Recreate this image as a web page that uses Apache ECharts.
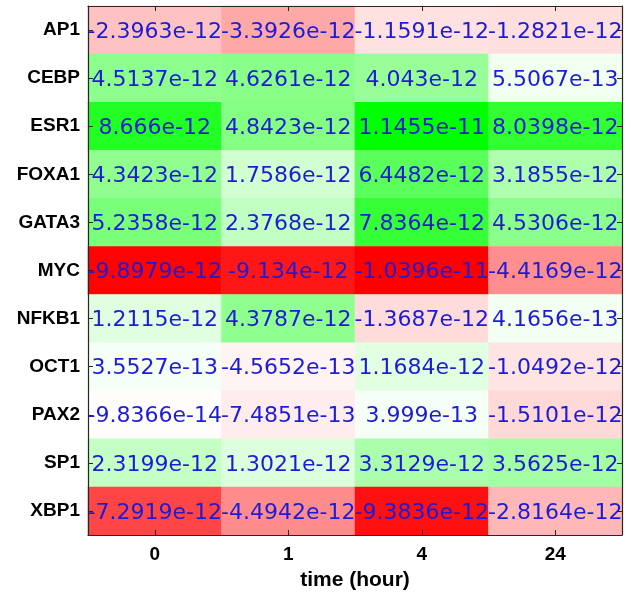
<!DOCTYPE html>
<html>
<head>
<meta charset="utf-8">
<script src="https://cdn.jsdelivr.net/npm/echarts@6/dist/echarts.min.js"></script>
<style>
html,body{margin:0;padding:0;background:#fff;}
#c{width:634px;height:599px;}
</style>
</head>
<body>
<div id="c"></div>
<script>
var genes = ['AP1','CEBP','ESR1','FOXA1','GATA3','MYC','NFKB1','OCT1','PAX2','SP1','XBP1'];
var times = ['0','1','4','24'];
var t0  = [-2.3963e-12, 4.5137e-12, 8.666e-12, 4.3423e-12, 5.2358e-12, -9.8979e-12, 1.2115e-12, 3.5527e-13, -9.8366e-14, 2.3199e-12, -7.2919e-12];
var t1  = [-3.3926e-12, 4.6261e-12, 4.8423e-12, 1.7586e-12, 2.3768e-12, -9.134e-12, 4.3787e-12, -4.5652e-13, -7.4851e-13, 1.3021e-12, -4.4942e-12];
var t4  = [-1.1591e-12, 4.043e-12, 1.1455e-11, 6.4482e-12, 7.8364e-12, -1.0396e-11, -1.3687e-12, 1.1684e-12, 3.999e-13, 3.3129e-12, -9.3836e-12];
var t24 = [-1.2821e-12, 5.5067e-13, 8.0398e-12, 3.1855e-12, 4.5306e-12, -4.4169e-12, 4.1656e-13, -1.0492e-12, -1.5101e-12, 3.5625e-12, -2.8164e-12];
var columns = [t0, t1, t4, t24];

var data = [];
columns.forEach(function (col, ci) {
  col.forEach(function (v, ri) { data.push([ci, ri, v]); });
});

function fmt(v) {
  var s = v.toPrecision(5);
  var parts = s.split('e');
  var m = parts[0];
  if (m.indexOf('.') >= 0) { m = m.replace(/0+$/, '').replace(/\.$/, ''); }
  var e = parts[1];
  if (e) {
    var neg = e[0] === '-';
    var num = e.replace(/^[+-]/, '');
    if (num.length < 2) num = '0' + num;
    return m + 'e' + (neg ? '-' : '+') + num;
  }
  return m;
}

var axisColor = '#262626';
var lblFont = 'Liberation Sans, Arial';
function tick() { return { show: true, inside: true, alignWithLabel: true, length: 5, lineStyle: { color: axisColor, width: 1 } }; }
function line() { return { show: true, onZero: false, lineStyle: { color: axisColor, width: 1.2 } }; }

var chart = echarts.init(document.getElementById('c'));
chart.setOption({
  animation: false,
  backgroundColor: '#ffffff',
  grid: { left: 88, top: 6, width: 534, height: 529, containLabel: false },
  xAxis: [{
    type: 'category', data: times, position: 'bottom', z: 10,
    axisLine: line(), axisTick: tick(),
    axisLabel: { color: '#000', fontFamily: lblFont, fontWeight: 'bold', fontSize: 19, margin: 10 },
    splitLine: { show: false },
    name: 'time (hour)', nameLocation: 'middle', nameGap: 35,
    nameTextStyle: { color: '#000', fontFamily: lblFont, fontWeight: 'bold', fontSize: 21 }
  }, {
    type: 'category', data: times, position: 'top', z: 10,
    axisLine: line(), axisTick: tick(),
    axisLabel: { show: false }, splitLine: { show: false }
  }],
  yAxis: [{
    type: 'category', data: genes, inverse: true, position: 'left', z: 10,
    axisLine: line(), axisTick: tick(),
    axisLabel: { color: '#000', fontFamily: lblFont, fontWeight: 'bold', fontSize: 19, margin: 8 },
    splitLine: { show: false }
  }, {
    type: 'category', data: genes, inverse: true, position: 'right', z: 10,
    axisLine: line(), axisTick: tick(),
    axisLabel: { show: false }, splitLine: { show: false }
  }],
  visualMap: {
    show: false, min: -1e-11, max: 1e-11, dimension: 2, seriesIndex: 0,
    inRange: { color: ['#ff0000', '#ffffff', '#00ff00'] }
  },
  series: [{
    type: 'heatmap',
    xAxisIndex: 0, yAxisIndex: 0,
    data: data,
    z: 2,
    label: {
      show: true,
      color: '#1c1cd8',
      fontFamily: 'DejaVu Sans',
      fontSize: 22,
      offset: [0, 2],
      formatter: function (p) { return fmt(p.value[2]); }
    },
    itemStyle: { borderWidth: 0 },
    emphasis: { disabled: true }
  }]
});
</script>
</body>
</html>
